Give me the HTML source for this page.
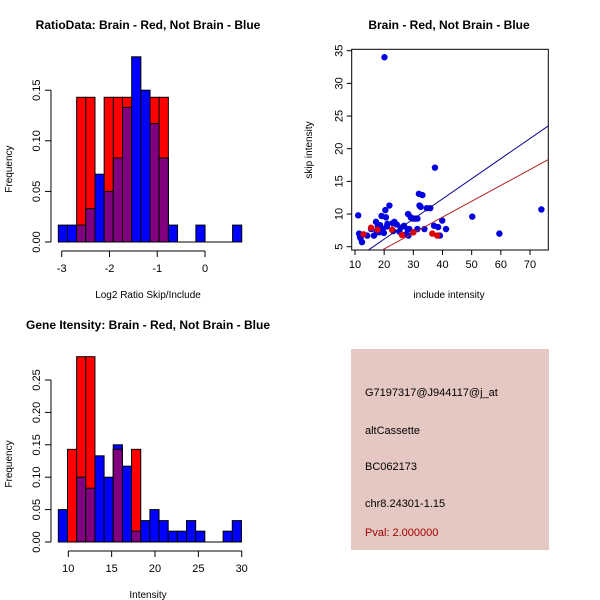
<!DOCTYPE html>
<html><head><meta charset="utf-8"><style>
html,body{margin:0;padding:0;background:#fff}
svg{display:block;font-family:"Liberation Sans",sans-serif}
</style></head><body>
<svg id="svg" width="600" height="600" viewBox="0 0 600 600">
<rect x="0" y="0" width="600" height="600" fill="#fff"/>
<text x="148" y="29" font-size="12" font-weight="bold" text-anchor="middle">RatioData: Brain - Red, Not Brain - Blue</text>
<text x="449" y="29" font-size="12" font-weight="bold" text-anchor="middle">Brain - Red, Not Brain - Blue</text>
<text x="148" y="329" font-size="12" font-weight="bold" text-anchor="middle">Gene Itensity: Brain - Red, Not Brain - Blue</text>
<g id="g1"></g>
<g id="g2"></g>
<g id="g3"></g>
<g>
<rect x="351" y="349" width="198" height="201" fill="#e6c8c2"/>
<text x="365" y="396" font-size="11">G7197317@J944117@j_at</text>
<text x="365" y="434" font-size="11">altCassette</text>
<text x="365" y="470" font-size="11">BC062173</text>
<text x="365" y="507" font-size="11">chr8.24301-1.15</text>
<text x="365" y="536" font-size="11" fill="#a00000">Pval: 2.000000</text>
</g>
</svg>
<script>
const NS="http://www.w3.org/2000/svg";
// Ratio histogram data
const ratioBinStart=-3.071, ratioBinWidth=0.192;
const ratioBlue=[0.0167,0.0167,0.0167,0.033,0.067,0.05,0.083,0.133,0.183,0.15,0.117,0.083,0.0167,0,0,0.0167,0,0,0,0.0167];
const ratioRed=[0,0,0.143,0.143,0,0.143,0.143,0.143,0,0,0.143,0.143,0,0,0,0,0,0,0,0];
const ratioXTicks=[-3,-2,-1,0];
const ratioYTicks=[0,0.05,0.10,0.15];
// Intensity histogram data
const intBinStart=8.85, intBinWidth=1.056;
const intBlue=[0.05,0,0.1,0.083,0.133,0.1,0.15,0.117,0.0167,0.033,0.05,0.033,0.0167,0.0167,0.033,0.0167,0,0,0.0167,0.033];
const intRed=[0,0.143,0.286,0.286,0,0,0.143,0,0.143,0,0,0,0,0,0,0,0,0,0,0];
const intXTicks=[10,15,20,25,30];
const intYTicks=[0,0.05,0.10,0.15,0.20,0.25];
// Scatter data
const blueX=[11.1,11.4,11.7,11.9,12.4,14.2,15.5,16.5,17.2,17.4,17.8,18.2,18.6,19.1,19.5,19.9,20.1,20.4,20.6,20.9,21.1,21.8,22.9,23.1,23.5,24.3,25.2,25.7,26.8,27.5,28.2,28.0,28.6,28.3,29.1,29.8,30.6,31.4,31.4,31.9,32.1,32.5,33.1,33.8,34.6,35.8,37.1,37.4,38.5,39.1,39.9,41.2,50.2,59.5,73.9];
const blueY=[9.8,7.0,6.5,6.3,5.7,6.7,7.7,6.7,8.8,7.4,8.1,7.2,8.3,9.7,7.7,7.1,34.0,10.6,9.5,8.1,8.5,11.3,8.6,7.4,8.8,8.4,7.3,7.9,8.2,6.9,10.0,7.7,7.7,6.7,9.5,9.3,9.3,9.3,7.7,13.1,11.3,11.1,12.9,7.7,10.9,10.9,8.2,17.1,8.0,6.7,9.0,7.7,9.6,7.0,10.7];
const redX=[15.5,12.9,17.7,22.7,26.1,30.0,36.5,38.2];
const redY=[7.9,6.9,7.6,7.6,6.8,7.2,7.0,6.7];
const blueFit=[0,0.308];
const redFit=[-0.2,0.243];
const scXTicks=[10,20,30,40,50,60,70];
const scYTicks=[5,10,15,20,25,30,35];

function mk(parent,tag,attrs){const e=document.createElementNS(NS,tag);for(const k in attrs)e.setAttribute(k,attrs[k]);parent.appendChild(e);return e;}

function hist(g,cfg){
  const sx=v=>cfg.x0px+(v-cfg.x0)*cfg.xs, sy=v=>cfg.y0px-v*cfg.ys;
  for(let i=0;i<cfg.blue.length;i++){
    const xa=sx(cfg.start+i*cfg.w), xb=sx(cfg.start+(i+1)*cfg.w);
    const b=cfg.blue[i], r=cfg.red[i], m=Math.min(b,r);
    const draw=(v,col,nm)=>{if(v<=0)return;const e=mk(g,'rect',{x:xa,y:sy(v),width:xb-xa,height:sy(0)-sy(v),fill:col,stroke:'#000','stroke-width':1});
      
      };
    draw(b,'#0000ff','bar-blue-'+i);
    draw(r,'#ff0000','bar-red-'+i);
    draw(m,'#800080','bar-overlap-'+i);
  }
  const xe=sx(cfg.start+cfg.blue.length*cfg.w);
  mk(g,'line',{x1:sx(cfg.start),x2:xe,y1:sy(0),y2:sy(0),stroke:'#000'});
  const ay=cfg.y0px+9;
  mk(g,'line',{x1:sx(cfg.xt[0]),x2:sx(cfg.xt[cfg.xt.length-1]),y1:ay,y2:ay,stroke:'#000'});
  cfg.xt.forEach(t=>{mk(g,'line',{x1:sx(t),x2:sx(t),y1:ay,y2:ay+6,stroke:'#000'});
    const tx=mk(g,'text',{x:sx(t),y:ay+21,'font-size':11,'text-anchor':'middle'});tx.textContent=t;
    
    });
  const ax=cfg.axX;
  mk(g,'line',{x1:ax,x2:ax,y1:sy(0),y2:sy(cfg.yt[cfg.yt.length-1]),stroke:'#000'});
  cfg.yt.forEach(t=>{mk(g,'line',{x1:ax-6,x2:ax,y1:sy(t),y2:sy(t),stroke:'#000'});
    const tx=mk(g,'text',{x:ax-11,y:sy(t),'font-size':11,'text-anchor':'middle',transform:`rotate(-90 ${ax-11} ${sy(t)})`});tx.textContent=t.toFixed(2);
    
    });
  const ym=(sy(0)+sy(cfg.yt[cfg.yt.length-1]))/2+3;
  const yl=mk(g,'text',{x:12,y:ym,'font-size':10,'text-anchor':'middle',transform:`rotate(-90 12 ${ym})`});
  yl.textContent='Frequency';
  
  
  const xl=mk(g,'text',{x:cfg.xlx,y:cfg.xly,'font-size':10,'text-anchor':'middle'});
  xl.textContent=cfg.xlabel;
  
  
}
hist(document.getElementById('g1'),{x0:-3,x0px:61.7,xs:47.77,y0px:242,ys:1012,start:ratioBinStart,w:ratioBinWidth,blue:ratioBlue,red:ratioRed,xt:ratioXTicks,yt:ratioYTicks,axX:51,xlabel:'Log2 Ratio Skip/Include',xlx:148,xly:298});
hist(document.getElementById('g3'),{x0:10,x0px:68.3,xs:8.67,y0px:542,ys:648,start:intBinStart,w:intBinWidth,blue:intBlue,red:intRed,xt:intXTicks,yt:intYTicks,axX:51,xlabel:'Intensity',xlx:148,xly:598});

(function(){
  const g=document.getElementById('g2');
  const sx=v=>355+(v-10)*2.917, sy=v=>246.7-(v-5)*6.533;
  const L=351.7,R=548.3,T=49.3,B=250;
  const cp=mk(g,'clipPath',{id:'cp'});mk(cp,'rect',{x:L,y:T,width:R-L,height:B-T});
  mk(g,'rect',{x:L,y:T,width:R-L,height:B-T,fill:'none',stroke:'#000'});
  blueX.forEach((x,i)=>{const c=mk(g,'circle',{cx:sx(x),cy:sy(blueY[i]),r:3.2,fill:'#0000e0'});
    
    });
  redX.forEach((x,i)=>{const c=mk(g,'circle',{cx:sx(x),cy:sy(redY[i]),r:3.2,fill:'#e00000'});
    
    });
  const line=(f,col,nm)=>{const xa=0,xb=80;const l=mk(g,'line',{x1:sx(xa),y1:sy(f[0]+f[1]*xa),x2:sx(xb),y2:sy(f[0]+f[1]*xb),stroke:col,'clip-path':'url(#cp)'});
    
    };
  line(blueFit,'#00008b','fit-line-blue');
  line(redFit,'#b22222','fit-line-red');
  scXTicks.forEach(t=>{mk(g,'line',{x1:sx(t),x2:sx(t),y1:B,y2:B+5,stroke:'#000'});
    const tx=mk(g,'text',{x:sx(t),y:B+18,'font-size':11,'text-anchor':'middle'});tx.textContent=t;
    
    });
  scYTicks.forEach(t=>{mk(g,'line',{x1:L-5,x2:L,y1:sy(t),y2:sy(t),stroke:'#000'});
    const tx=mk(g,'text',{x:L-9,y:sy(t),'font-size':11,'text-anchor':'middle',transform:`rotate(-90 ${L-9} ${sy(t)})`});tx.textContent=t;
    
    });
  const xl=mk(g,'text',{x:449,y:298,'font-size':10,'text-anchor':'middle'});xl.textContent='include intensity';
  
  
  const yl=mk(g,'text',{x:312,y:150,'font-size':10,'text-anchor':'middle',transform:'rotate(-90 312 150)'});yl.textContent='skip intensity';
  
  
})();
</script>
</body></html>
